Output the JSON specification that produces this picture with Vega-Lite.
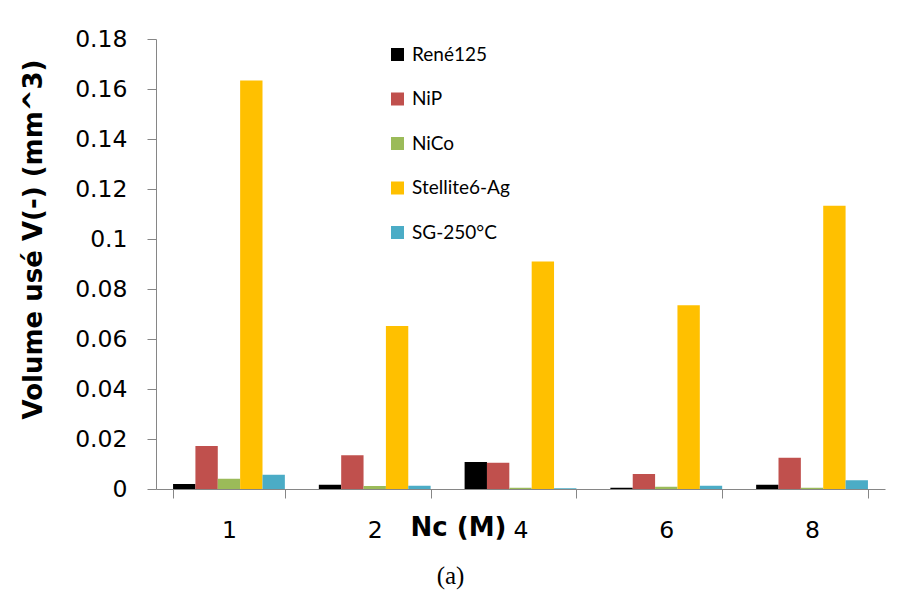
{
  "$schema": "https://vega.github.io/schema/vega-lite/v6.json",
  "autosize": {"type": "none"},
  "width": 729,
  "height": 450,
  "padding": {"left": 156, "top": 39, "right": 16, "bottom": 107},
  "background": "white",
  "config": {
    "view": {"stroke": null},
    "font": "DejaVu Sans",
    "axis": {"grid": false, "domainColor": "#868686", "tickColor": "#868686", "tickSize": 9, "labelColor": "#000000", "titleColor": "#000000", "labelFont": "DejaVu Sans", "titleFont": "DejaVu Sans"}
  },
  "title": {"text": "(a)", "orient": "bottom", "anchor": "middle", "frame": "group", "dx": -70, "offset": 22, "font": "Liberation Serif", "fontSize": 25, "fontWeight": "normal", "color": "#000000"},
  "data": {"values": [
    {"Nc": "1", "Material": "René125", "V": 0.002},
    {"Nc": "1", "Material": "NiP", "V": 0.0172},
    {"Nc": "1", "Material": "NiCo", "V": 0.0041},
    {"Nc": "1", "Material": "Stellite6-Ag", "V": 0.1634},
    {"Nc": "1", "Material": "SG-250°C", "V": 0.0057},
    {"Nc": "2", "Material": "René125", "V": 0.0017},
    {"Nc": "2", "Material": "NiP", "V": 0.0135},
    {"Nc": "2", "Material": "NiCo", "V": 0.0012},
    {"Nc": "2", "Material": "Stellite6-Ag", "V": 0.0652},
    {"Nc": "2", "Material": "SG-250°C", "V": 0.0013},
    {"Nc": "4", "Material": "René125", "V": 0.0108},
    {"Nc": "4", "Material": "NiP", "V": 0.0105},
    {"Nc": "4", "Material": "NiCo", "V": 0.0005},
    {"Nc": "4", "Material": "Stellite6-Ag", "V": 0.091},
    {"Nc": "4", "Material": "SG-250°C", "V": 0.0003},
    {"Nc": "6", "Material": "René125", "V": 0.0005},
    {"Nc": "6", "Material": "NiP", "V": 0.006},
    {"Nc": "6", "Material": "NiCo", "V": 0.0009},
    {"Nc": "6", "Material": "Stellite6-Ag", "V": 0.0735},
    {"Nc": "6", "Material": "SG-250°C", "V": 0.0013},
    {"Nc": "8", "Material": "René125", "V": 0.0017},
    {"Nc": "8", "Material": "NiP", "V": 0.0125},
    {"Nc": "8", "Material": "NiCo", "V": 0.0005},
    {"Nc": "8", "Material": "Stellite6-Ag", "V": 0.1133},
    {"Nc": "8", "Material": "SG-250°C", "V": 0.0035}
  ]},
  "mark": {"type": "bar"},
  "encoding": {
    "x": {
      "field": "Nc", "type": "nominal", "sort": ["1", "2", "4", "6", "8"],
      "scale": {"paddingInner": 0.233, "paddingOuter": 0.117},
      "axis": {"title": "Nc (M)", "labelAngle": 0, "tickBand": "extent", "labelPadding": 20, "labelFontSize": 23.5, "titleFontSize": 26, "titleFontWeight": "bold", "titleX": 302, "titleY": 38, "titleAlign": "center", "titleBaseline": "middle", "titleAnchor": null}
    },
    "xOffset": {"field": "Material", "type": "nominal", "sort": ["René125", "NiP", "NiCo", "Stellite6-Ag", "SG-250°C"], "scale": {"paddingInner": 0, "paddingOuter": 0}},
    "y": {
      "field": "V", "type": "quantitative",
      "scale": {"domain": [0, 0.18], "nice": false},
      "axis": {"title": "Volume usé V(-) (mm^3)", "values": [0, 0.02, 0.04, 0.06, 0.08, 0.1, 0.12, 0.14, 0.16, 0.18], "format": "~g", "labelPadding": 20, "labelFontSize": 23.5, "titleFontSize": 26, "titleFontWeight": "bold", "titleX": -123, "titleY": 200, "titleAngle": -90, "titleAlign": "center", "titleBaseline": "middle", "titleAnchor": null}
    },
    "color": {
      "field": "Material", "type": "nominal",
      "sort": ["René125", "NiP", "NiCo", "Stellite6-Ag", "SG-250°C"],
      "scale": {"domain": ["René125", "NiP", "NiCo", "Stellite6-Ag", "SG-250°C"], "range": ["#000000", "#C0504D", "#9BBB59", "#FFC000", "#4BACC6"]},
      "legend": {"title": null, "orient": "none", "legendX": 232, "legendY": 6, "symbolType": "square", "symbolSize": 169, "symbolStrokeWidth": 0, "labelFont": "Lato", "labelFontSize": 19, "labelColor": "#000000", "rowPadding": 24.5, "labelOffset": 5}
    }
  }
}
